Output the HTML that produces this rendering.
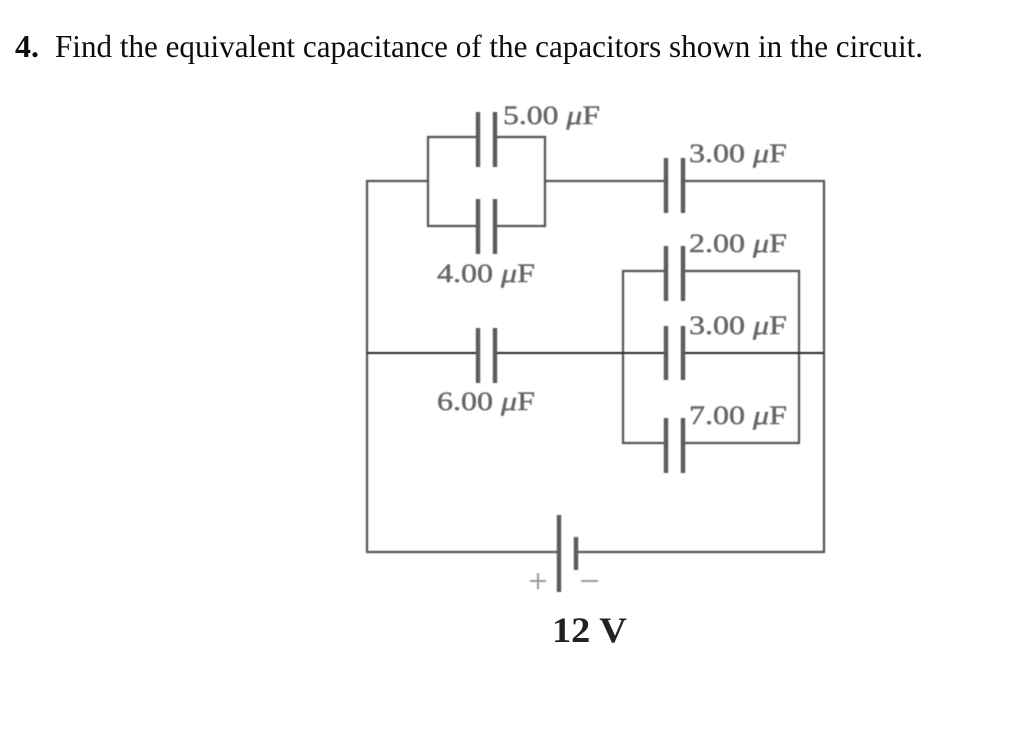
<!DOCTYPE html>
<html>
<head>
<meta charset="utf-8">
<style>
html,body{margin:0;padding:0;background:#fff;width:1024px;height:756px;overflow:hidden}
svg{display:block}
text{font-family:"Liberation Serif",serif}
.lb{font-size:26px;fill:#666;stroke:#666;stroke-width:.45px}
.lb tspan.i{font-style:italic}
</style>
</head>
<body>
<svg width="1024" height="756" viewBox="0 0 1024 756" xmlns="http://www.w3.org/2000/svg">
<defs>
<filter id="b" x="-5%" y="-5%" width="110%" height="110%"><feGaussianBlur stdDeviation="0.6"/></filter>
<filter id="t" x="-5%" y="-20%" width="110%" height="140%"><feGaussianBlur stdDeviation="0.3"/></filter>
</defs>
<rect width="1024" height="756" fill="#fff"/>
<g filter="url(#t)">
<text x="15" y="57" font-size="32" font-weight="bold" fill="#111">4.</text>
<text x="55" y="57" font-size="32" fill="#111" textLength="868" lengthAdjust="spacingAndGlyphs">Find the equivalent capacitance of the capacitors shown in the circuit.</text>
</g>
<g filter="url(#b)">
<g fill="none" stroke="#555" stroke-width="2.2" stroke-linejoin="miter">
<path d="M428 181H367V552H559"/>
<path d="M576 552H824V181H683"/>
<path d="M545 181H666"/>
<path d="M478 137H428V226H478"/>
<path d="M495 137H545V226H495"/>
<path d="M666 271H623V443H666"/>
<path d="M683 271H799V443H683"/>
</g>
<g fill="none" stroke="#2c2c2c" stroke-width="2">
<path d="M367 353H478"/>
<path d="M495 353H666"/>
<path d="M683 353H824"/>
</g>
<g fill="none" stroke="#5c5c5c" stroke-width="4.4">
<path d="M478 112V167M495 112V167"/>
<path d="M478 199V254M495 199V254"/>
<path d="M478 328V383M495 328V383"/>
<path d="M666 158V213M683 158V213"/>
<path d="M666 246V301M683 246V301"/>
<path d="M666 326V380M683 326V380"/>
<path d="M666 418V473M683 418V473"/>
<path d="M559 515V592"/>
<path d="M576 537V570"/>
</g>
<g fill="none" stroke="#999" stroke-width="2">
<path d="M530 581H546M538 573V589"/>
<path d="M581 581H598"/>
</g>
<text class="lb" x="503" y="124" textLength="97" lengthAdjust="spacingAndGlyphs">5.00 <tspan class="i">μ</tspan>F</text>
<text class="lb" x="437" y="282" textLength="98" lengthAdjust="spacingAndGlyphs">4.00 <tspan class="i">μ</tspan>F</text>
<text class="lb" x="437" y="410" textLength="98" lengthAdjust="spacingAndGlyphs">6.00 <tspan class="i">μ</tspan>F</text>
<text class="lb" x="689" y="162" textLength="98" lengthAdjust="spacingAndGlyphs">3.00 <tspan class="i">μ</tspan>F</text>
<text class="lb" x="689" y="252" textLength="98" lengthAdjust="spacingAndGlyphs">2.00 <tspan class="i">μ</tspan>F</text>
<text class="lb" x="689" y="334" textLength="98" lengthAdjust="spacingAndGlyphs">3.00 <tspan class="i">μ</tspan>F</text>
<text class="lb" x="689" y="424" textLength="98" lengthAdjust="spacingAndGlyphs">7.00 <tspan class="i">μ</tspan>F</text>
</g>
<text x="552" y="642" font-size="36" font-weight="bold" fill="#222" textLength="75" lengthAdjust="spacingAndGlyphs" filter="url(#t)">12 V</text>
</svg>
</body>
</html>
